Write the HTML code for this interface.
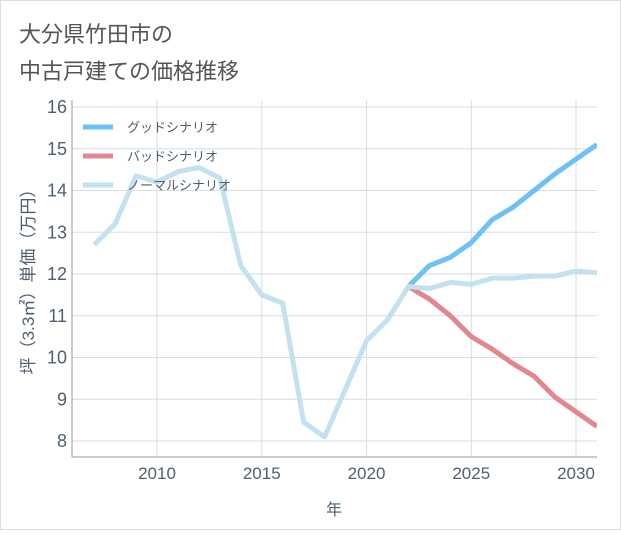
<!DOCTYPE html>
<html><head><meta charset="utf-8"><style>
body{margin:0;background:#fff;font-family:"Liberation Sans","Noto Sans CJK JP",sans-serif;}
#wrap{position:relative;width:619px;height:528px;border:1px solid #ddd;}
</style></head><body>
<div id="wrap">
<svg id="chart" width="619" height="528">
<text x="18" y="41" font-size="22" fill="#555" font-family="Liberation Sans, Noto Sans CJK JP, sans-serif">大分県竹田市の</text>
<text x="18" y="78" font-size="22" fill="#555" font-family="Liberation Sans, Noto Sans CJK JP, sans-serif">中古戸建ての価格推移</text>
</svg></div>
<script>
const years=[2007,2008,2009,2010,2011,2012,2013,2014,2015,2016,2017,2018,2019,2020,2021,2022,2023,2024,2025,2026,2027,2028,2029,2030,2031];
const normal=[12.7,13.2,14.35,14.2,14.45,14.55,14.3,12.2,11.5,11.3,8.45,8.1,9.25,10.4,10.9,11.7,11.65,11.8,11.75,11.9,11.9,11.95,11.95,12.07,12.03];
const fYears=[2022,2023,2024,2025,2026,2027,2028,2029,2030,2031];
const good=[11.7,12.2,12.4,12.75,13.3,13.6,14.0,14.4,14.75,15.1];
const bad=[11.7,11.4,11.0,10.5,10.2,9.85,9.55,9.05,8.7,8.35];
const yTicks=[8,9,10,11,12,13,14,15,16];
const xTicks=[2010,2015,2020,2025,2030];
const svg=document.getElementById('chart');const NS='http://www.w3.org/2000/svg';
const L=71,R=596,T=99,B=456;
const TXT='#4f5f6f';
const X=v=>156+(v-2010)*20.95;
const Y=v=>440-(v-8)*41.75;
function mk(t,a){const e=document.createElementNS(NS,t);for(const k in a)e.setAttribute(k,a[k]);svg.appendChild(e);return e;}
yTicks.forEach(v=>{const g=mk('line',{x1:L,x2:R,y1:Y(v),y2:Y(v),stroke:'#d3dee8','stroke-width':1});


const t=mk('text',{x:L-5,y:Y(v)+6,'text-anchor':'end','font-size':18,fill:TXT});t.textContent=v;

});
xTicks.forEach(v=>{const g=mk('line',{x1:X(v),x2:X(v),y1:T,y2:B,stroke:'#d3dee8','stroke-width':1});


const t=mk('text',{x:X(v),y:B+22,'text-anchor':'middle','font-size':17,fill:TXT});t.textContent=v;

});
const ax=mk('path',{d:`M${L} ${T}V${B}H${R}`,fill:'none',stroke:'#999','stroke-width':1});


const cp=mk('clipPath',{id:'cp'});const cr=document.createElementNS(NS,'rect');cr.setAttribute('x',L);cr.setAttribute('y',T);cr.setAttribute('width',R-L);cr.setAttribute('height',B-T);cp.appendChild(cr);
function line(xs,ys,c,name){const p=mk('polyline',{points:xs.map((x,i)=>X(x)+','+Y(ys[i])).join(' '),fill:'none',stroke:c,'stroke-width':5,'stroke-linejoin':'round','clip-path':'url(#cp)'});

}
line(fYears,good,'#6ec0f5','good-scenario-line');
line(fYears,bad,'#e0878f','bad-scenario-line');
line(years,normal,'#c3e1ee','normal-scenario-line');
[['グッドシナリオ','#6ec0f5',126],['バッドシナリオ','#e0878f',155],['ノーマルシナリオ','#c3e1ee',184]].forEach(([n,c,y])=>{
const l=mk('line',{x1:82,x2:112,y1:y,y2:y,stroke:c,'stroke-width':5});


const t=mk('text',{x:126,y:y+5,'font-size':13,fill:TXT});t.textContent=n;

});
const xt=mk('text',{x:333,y:514,'text-anchor':'middle','font-size':16,fill:TXT});xt.textContent='年';


const yt=mk('text',{x:0,y:0,'text-anchor':'middle','font-size':17,fill:TXT,transform:`translate(33,${(T+B)/2-1}) rotate(-90)`});yt.textContent='坪（3.3㎡）単価（万円）';


</script></body></html>
